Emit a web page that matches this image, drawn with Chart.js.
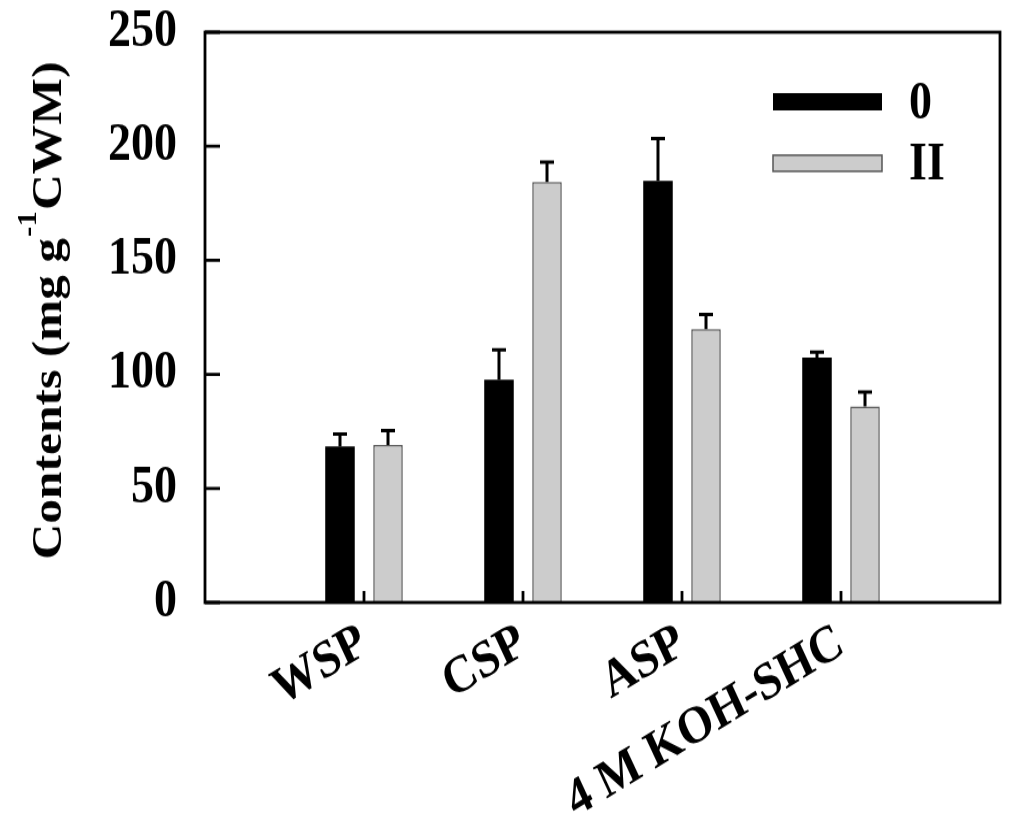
<!DOCTYPE html>
<html>
<head>
<meta charset="utf-8">
<script src="https://cdn.jsdelivr.net/npm/chart.js@4.4.1/dist/chart.umd.min.js"></script>
<style>
  html, body { margin: 0; padding: 0; background: #fff; overflow: hidden; }
  /* the original figure is stretched vertically a little; draw at 708px high and show at 814px */
  #c { display: block; width: 1024px !important; height: 814px !important; }
</style>
</head>
<body>
<canvas id="c" width="1024" height="708"></canvas>
<script>
// --- data ---
const categories = ['WSP', 'CSP', 'ASP', '4 M KOH-SHC'];
const seriesNames = ['0', 'II'];
const values0 = [68.4, 97.6, 184.8, 107.4];
const errors0 = [5.5, 13.2, 18.6, 2.3];
const valuesII = [69.0, 184.3, 119.8, 85.9];
const errorsII = [6.4, 8.8, 6.4, 6.3];
const yTicks = [0, 50, 100, 150, 200, 250];

const FONT = "'Liberation Serif', 'Times New Roman', serif";

// empty slots on both ends so categories sit at 1..4 of a 0..5 axis
const labels = [''].concat(categories, ['']);
const pad = arr => [null].concat(arr, [null]);

const frameAndErrors = {
  id: 'frameAndErrors',
  afterDatasetsDraw(chart) {
    const ctx = chart.ctx, a = chart.chartArea;
    const x = chart.scales.x, y = chart.scales.y;
    ctx.save();
    // error bars (upper only)
    const errs = [errors0, errorsII];
    chart.data.datasets.forEach((ds, di) => {
      const meta = chart.getDatasetMeta(di);
      meta.data.forEach((bar, i) => {
        if (ds.data[i] == null) return;
        const e = errs[di][i - 1];
        const top = y.getPixelForValue(ds.data[i] + e);
        ctx.strokeStyle = '#000';
        ctx.lineWidth = 3;
        ctx.beginPath();
        ctx.moveTo(bar.x, bar.y);
        ctx.lineTo(bar.x, top);
        ctx.moveTo(bar.x - 7, top);
        ctx.lineTo(bar.x + 7, top);
        ctx.stroke();
      });
    });
    // frame
    ctx.strokeStyle = '#000';
    ctx.lineWidth = 2.8;
    ctx.strokeRect(a.left, a.top, a.right - a.left, a.bottom - a.top);
    // inner ticks
    ctx.beginPath();
    yTicks.forEach(t => {
      const py = y.getPixelForValue(t);
      ctx.moveTo(a.left, py);
      ctx.lineTo(a.left + 15, py);
    });
    categories.forEach((c, i) => {
      const px = x.getPixelForValue(i + 1);
      ctx.moveTo(px, a.bottom);
      ctx.lineTo(px, a.bottom - 10);
    });
    ctx.stroke();

    // legend
    const lx = 773, lw = 109;
    ctx.fillStyle = '#000';
    ctx.fillRect(lx, 81, lw, 15);
    ctx.fillStyle = '#cccccc';
    ctx.fillRect(lx, 135, lw, 14);
    ctx.strokeStyle = '#555';
    ctx.lineWidth = 1.5;
    ctx.strokeRect(lx, 135, lw, 14);
    ctx.fillStyle = '#000';
    ctx.font = 'bold 46px ' + FONT;
    ctx.textAlign = 'left';
    ctx.textBaseline = 'middle';
    ctx.fillText(seriesNames[0], 909, 91);
    ctx.fillText(seriesNames[1], 909, 144);

    // y title with superscript
    ctx.translate(46, 271);
    ctx.rotate(-Math.PI / 2);
    const p1 = 'Contents (mg g', sup = '-1', p2 = 'CWM)';
    ctx.font = 'bold 43px ' + FONT;
    const w1 = ctx.measureText(p1).width, w3 = ctx.measureText(p2).width;
    ctx.font = 'bold 27px ' + FONT;
    const w2 = ctx.measureText(sup).width;
    let sx = -(w1 + w2 + w3) / 2;
    ctx.textBaseline = 'alphabetic';
    ctx.font = 'bold 43px ' + FONT;
    ctx.fillText(p1, sx, 15);
    ctx.font = 'bold 27px ' + FONT;
    ctx.fillText(sup, sx + w1 + 1, -10);
    ctx.font = 'bold 43px ' + FONT;
    ctx.fillText(p2, sx + w1 + w2 + 2, 15);
    ctx.restore();
  }
};

new Chart(document.getElementById('c'), {
  type: 'bar',
  data: {
    labels: labels,
    datasets: [
      { label: seriesNames[0], data: pad(values0), backgroundColor: '#000', borderColor: '#000', borderWidth: 0 },
      { label: seriesNames[1], data: pad(valuesII), backgroundColor: '#cccccc', borderColor: '#555', borderWidth: 1.5 }
    ]
  },
  options: {
    responsive: false,
    animation: false,
    devicePixelRatio: 1,
    categoryPercentage: 0.604,
    barPercentage: 0.615,
    layout: { padding: { left: 0, right: 24, top: 28, bottom: 0 } },
    plugins: { legend: { display: false }, tooltip: { enabled: false } },
    scales: {
      x: {
        offset: false,
        grid: { display: false, drawTicks: false },
        border: { display: false },
        ticks: {
          autoSkip: false, minRotation: 28, maxRotation: 28, padding: 8,
          color: '#000', font: { family: FONT, size: 46, weight: 'bold' }
        },
        afterFit(s) { s.height = 184; s.paddingLeft = 0; s.paddingRight = 0; }
      },
      y: {
        min: 0, max: 250,
        grid: { display: false, drawTicks: false },
        border: { display: false },
        ticks: {
          stepSize: 50, padding: 28, color: '#000',
          font: { family: FONT, size: 46, weight: 'bold' }
        },
        afterFit(s) { s.width = 205; s.paddingTop = 0; s.paddingBottom = 0; }
      }
    }
  },
  plugins: [frameAndErrors]
});
</script>
</body>
</html>
